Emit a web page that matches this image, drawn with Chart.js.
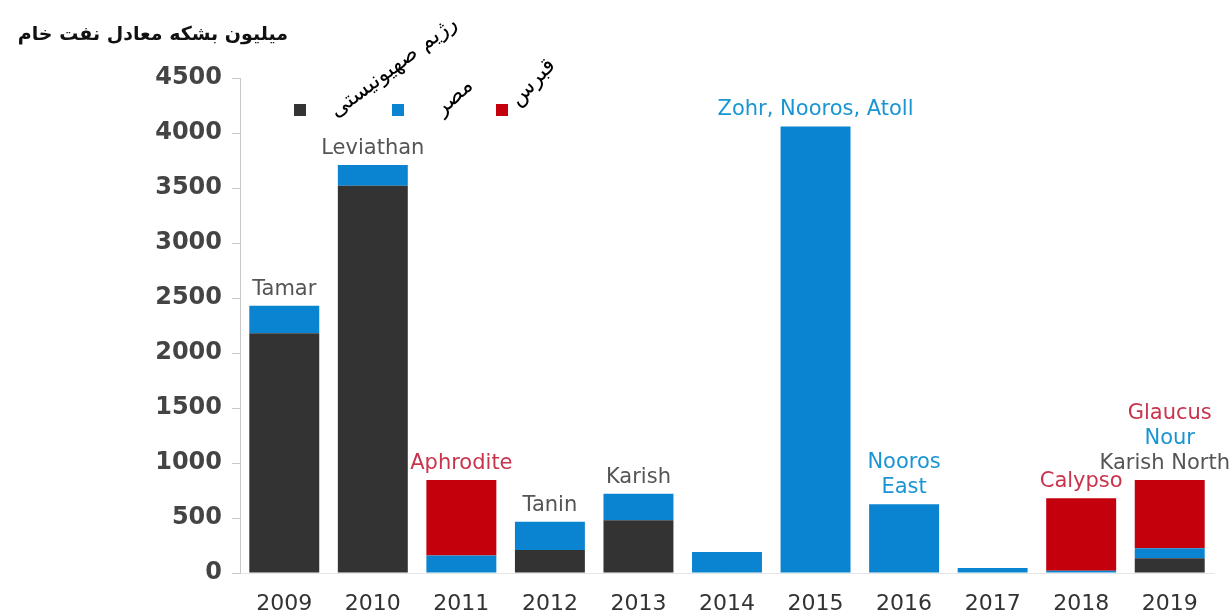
<!DOCTYPE html>
<html>
<head>
<meta charset="utf-8">
<script src="https://cdn.jsdelivr.net/npm/chart.js@4"></script>
<style>
  html, body { margin: 0; padding: 0; background: #fff; }
  #wrap { width: 1232px; height: 612px; position: relative; }
</style>
</head>
<body>
<div id="wrap"><canvas id="c" width="1232" height="612"></canvas></div>
<script>
// ---- data ----
const years = ['2009','2010','2011','2012','2013','2014','2015','2016','2017','2018','2019'];
const israelValues = [2180, 3520, 0, 210, 480, 0, 0, 0, 0, 0, 135];
const egyptValues  = [250, 190, 160, 255, 240, 190, 4060, 625, 45, 20, 90];
const cyprusValues = [0, 0, 685, 0, 0, 0, 0, 0, 0, 660, 620];
const seriesNames = ['رژیم صهیونیستی', 'مصر', 'قبرس'];
const yTicks = [0, 500, 1000, 1500, 2000, 2500, 3000, 3500, 4000, 4500];
const titleText = 'میلیون بشکه معادل نفت خام';
// field labels above each bar (top line first) and the country (series index) each belongs to
const fieldLines = [
  ['Tamar'], ['Leviathan'], ['Aphrodite'], ['Tanin'], ['Karish'], [],
  ['Zohr, Nooros, Atoll'], ['Nooros', 'East'], [], ['Calypso'],
  ['Glaucus', 'Nour', 'Karish North']
];
const fieldOwners = [
  [0], [0], [2], [0], [0], [],
  [1], [1, 1], [], [2],
  [2, 1, 0]
];

// ---- styles ----
const barColors = ['#333333', '#0a84d0', '#c4000d'];
const labelColors = ['#555555', '#1a95d3', '#c9344c'];
const FONT = '"DejaVu Sans", Verdana, sans-serif';

const fieldLabelPlugin = {
  id: 'fieldLabels',
  afterDatasetsDraw(chart) {
    const ctx = chart.ctx;
    const xs = chart.scales.x, ys = chart.scales.y;
    ctx.save();
    ctx.font = '21px ' + FONT;
    ctx.textAlign = 'center';
    ctx.textBaseline = 'bottom';
    const lineH = 25;
    fieldLines.forEach((lines, i) => {
      if (!lines.length) return;
      const total = israelValues[i] + egyptValues[i] + cyprusValues[i];
      const top = ys.getPixelForValue(total);
      const cx = xs.getPixelForValue(i);
      const n = lines.length;
      lines.forEach((t, k) => {
        const w = ctx.measureText(t).width;
        let x = Math.min(cx, chart.width - 2 - w / 2);
        const y = top - 6 - (n - 1 - k) * lineH;
        ctx.fillStyle = labelColors[fieldOwners[i][k]];
        ctx.fillText(t, x, y);
      });
    });
    ctx.restore();
  }
};

const titleLegendPlugin = {
  id: 'titleLegend',
  afterDraw(chart) {
    const ctx = chart.ctx;
    ctx.save();
    // title
    ctx.font = 'bold 19px ' + FONT;
    ctx.fillStyle = '#111';
    ctx.textAlign = 'right';
    ctx.textBaseline = 'middle';
    ctx.direction = 'rtl';
    ctx.fillText(titleText, 288, 35);
    // legend
    const sq = [[294, 104], [392, 104], [496, 104]];
    const txt = [
      { x: 336, y: 118, ang: -37, size: 22 },
      { x: 442, y: 116, ang: -42, size: 22 },
      { x: 518, y: 107, ang: -47, size: 22 }
    ];
    for (let i = 0; i < 3; i++) {
      ctx.fillStyle = barColors[i];
      ctx.fillRect(sq[i][0], sq[i][1], 12, 12);
      ctx.save();
      ctx.translate(txt[i].x, txt[i].y);
      ctx.rotate(txt[i].ang * Math.PI / 180);
      ctx.font = txt[i].size + 'px ' + FONT;
      ctx.fillStyle = '#000';
      ctx.direction = 'rtl';
      ctx.textAlign = 'left';
      ctx.textBaseline = 'alphabetic';
      ctx.fillText(seriesNames[i], 0, 0);
      ctx.restore();
    }
    ctx.restore();
  }
};

new Chart(document.getElementById('c'), {
  type: 'bar',
  data: {
    labels: years,
    datasets: [
      { label: seriesNames[0], data: israelValues, backgroundColor: barColors[0] },
      { label: seriesNames[1], data: egyptValues, backgroundColor: barColors[1] },
      { label: seriesNames[2], data: cyprusValues, backgroundColor: barColors[2] }
    ]
  },
  options: {
    responsive: false,
    animation: false,
    layout: { padding: { top: 78, right: 18, bottom: 0, left: 0 } },
    datasets: { bar: { categoryPercentage: 1, barPercentage: 0.79, borderWidth: 0 } },
    plugins: { legend: { display: false }, tooltip: { enabled: false }, title: { display: false } },
    scales: {
      x: {
        stacked: true,
        grid: { display: false },
        border: { display: true, color: '#e6e6e6' },
        ticks: { color: '#333', font: { family: FONT, size: 22 }, padding: 10 },
        afterFit(s) { s.height = 39; }
      },
      y: {
        stacked: true,
        min: 0, max: 4500,
        afterBuildTicks(s) { s.ticks = yTicks.map(v => ({ value: v })); },
        grid: { drawOnChartArea: false, drawTicks: true, tickLength: 8, color: '#c8c8c8' },
        border: { display: true, color: '#c8c8c8' },
        ticks: { color: '#444', font: { family: FONT, size: 24, weight: 'bold' }, padding: 10,
                 callback: (v) => String(v) },
        afterFit(s) { s.width = 240; }
      }
    }
  },
  plugins: [fieldLabelPlugin, titleLegendPlugin]
});
</script>
</body>
</html>
